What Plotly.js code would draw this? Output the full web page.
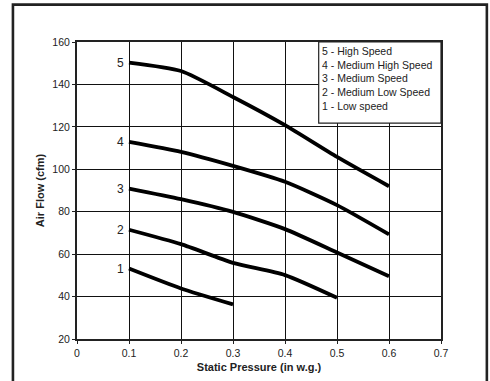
<!DOCTYPE html>
<html>
<head>
<meta charset="utf-8">
<script src="https://cdn.plot.ly/plotly-3.0.1.min.js"></script>
<style>
  html, body { margin: 0; padding: 0; background: #fff; }
  #chart { width: 490px; height: 381px; }
</style>
</head>
<body>
<div id="chart"></div>
<script>
// Static pressure (in w.g.)
const pressure = [0.1, 0.2, 0.3, 0.4, 0.5, 0.6];

// Air flow (cfm) per fan speed
const highSpeed       = [150.3, 146.3, 134.1, 120.8, 105.8, 92.0];
const mediumHighSpeed = [112.9, 108.2, 101.6, 94.1, 83.1, 69.3];
const mediumSpeed     = [90.9, 85.9, 79.9, 71.8, 60.8, 49.6];
const mediumLowSpeed  = [71.5, 64.7, 55.9, 50.1, 39.4];
const lowSpeed        = [53.2, 43.8, 36.3];

const curveNumbers = ["5", "4", "3", "2", "1"];
const legendLines = ["5 - High Speed", "4 - Medium High Speed", "3 - Medium Speed", "2 - Medium Low Speed", "1 - Low speed"];

const xTicks = [0, 0.1, 0.2, 0.3, 0.4, 0.5, 0.6, 0.7];
const xTickText = ["0", "0.1", "0.2", "0.3", "0.4", "0.5", "0.6", "0.7"];
const yTicks = [20, 40, 60, 80, 100, 120, 140, 160];

const seriesList = [highSpeed, mediumHighSpeed, mediumSpeed, mediumLowSpeed, lowSpeed];

const traces = seriesList.map((vals, i) => ({
  x: pressure.slice(0, vals.length),
  y: vals,
  type: 'scatter',
  mode: 'lines',
  line: { color: '#000', width: 3.8, shape: 'spline', smoothing: 0.6 },
  showlegend: false,
  hoverinfo: 'skip'
}));

const font = "Liberation Sans, Arial, Helvetica, sans-serif";

const annotations = seriesList.map((vals, i) => ({
  x: pressure[0], y: vals[0], xref: 'x', yref: 'y',
  text: curveNumbers[i], showarrow: false,
  xanchor: 'right', yanchor: 'middle', xshift: -3,
  font: { family: font, size: 12, color: '#222' }
}));

annotations.push({
  xref: 'paper', yref: 'paper', x: 0.667, y: 0.995,
  xanchor: 'left', yanchor: 'top', align: 'left', showarrow: false,
  text: legendLines.join('<br>'),
  font: { family: font, size: 10.5, color: '#222' }
});

const shapes = [
  // legend box
  { type: 'rect', xref: 'paper', yref: 'paper', x0: 0.664, x1: 1, y0: 0.727, y1: 1,
    fillcolor: '#fff', line: { color: '#222', width: 1.2 }, layer: 'above' },
  // outer frame
  { type: 'rect', xref: 'paper', yref: 'paper', x0: -0.176, x1: 1.126, y0: -0.2, y1: 1.126,
    fillcolor: 'rgba(0,0,0,0)', line: { color: '#222', width: 2.6 }, layer: 'above' }
];

const layout = {
  width: 490, height: 381,
  margin: { l: 77, r: 49, t: 42, b: 42 },
  paper_bgcolor: '#fff', plot_bgcolor: '#fff',
  xaxis: {
    range: [0, 0.7], tickvals: xTicks, ticktext: xTickText,
    showgrid: true, gridcolor: '#111', gridwidth: 1,
    showline: true, linecolor: '#222', linewidth: 2, mirror: true,
    ticks: 'outside', ticklen: 3, tickcolor: '#222', tickwidth: 1,
    zeroline: false,
    tickfont: { family: font, size: 10.5, color: '#222' },
    title: { text: '<b>Static Pressure (in w.g.)</b>', standoff: 6,
             font: { family: font, size: 11, color: '#222' } }
  },
  yaxis: {
    range: [20, 160], tickvals: yTicks,
    showgrid: true, gridcolor: '#111', gridwidth: 1,
    showline: true, linecolor: '#222', linewidth: 2, mirror: true,
    ticks: 'outside', ticklen: 3, tickcolor: '#222', tickwidth: 1,
    zeroline: false,
    tickfont: { family: font, size: 10.5, color: '#222' },
    title: { text: '<b>Air Flow (cfm)</b>', standoff: 6,
             font: { family: font, size: 11, color: '#222' } }
  },
  annotations: annotations,
  shapes: shapes,
  showlegend: false
};

Plotly.newPlot('chart', traces, layout, { displayModeBar: false, staticPlot: true });
</script>
</body>
</html>
